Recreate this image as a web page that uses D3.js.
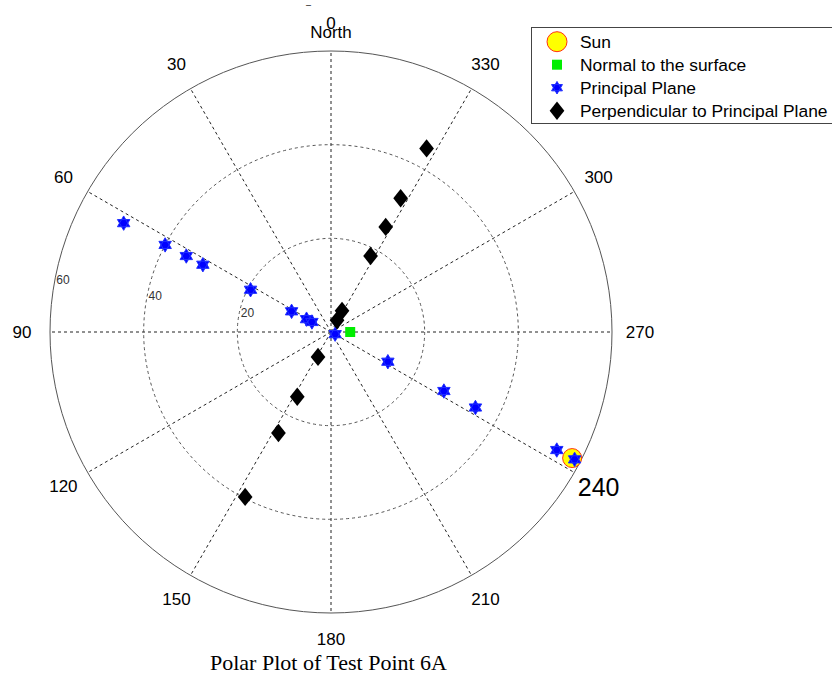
<!DOCTYPE html>
<html>
<head>
<meta charset="utf-8">
<script src="https://cdn.jsdelivr.net/npm/d3@7"></script>
<style>
  body { margin: 0; background: #fff; }
  text { font-family: Arial, "Liberation Sans", sans-serif; }
  text.title { font-family: "Liberation Serif", "Times New Roman", serif; }
</style>
</head>
<body>
<svg id="chart"></svg>
<script>
    // ---- data (azimuth in degrees, zenith angle in degrees) ----
    var angleTicks = [0, 30, 60, 90, 120, 150, 180, 210, 240, 270, 300, 330];
    var ringTicks = [20, 40, 60];
    var seriesNames = ['Sun', 'Normal to the surface', 'Principal Plane', 'Perpendicular to Principal Plane'];

    var sunAz = [242.4];
    var sunZen = [58.1];

    var normalAz = [270];
    var normalZen = [4.1];

    var principalAz = [62.3, 62.3, 62.3, 62.3, 62.3, 62.3, 62.3, 62.3, 242.4, 242.4, 242.4, 242.4, 242.4, 242.4];
    var principalZen = [50.0, 40.0, 34.9, 30.9, 19.4, 9.5, 5.9, 4.6, 1.0, 13.7, 27.2, 34.8, 54.4, 58.7];

    var perpAz = [332.5, 332.5, 332.5, 332.5, 332.5, 332.5, 152.5, 152.5, 152.5, 152.5];
    var perpZen = [44.2, 32.2, 25.3, 18.3, 5.1, 2.8, 6.0, 15.6, 24.3, 39.7];

    var width = 832;
    var height = 674;
    var cx = 331, cy = 332;
    var outerR = 281;

    var svg = d3.select('#chart')
        .attr('width', width)
        .attr('height', height);

    var r = d3.scaleLinear().domain([0, 60]).range([0, outerR]);

    // azimuth runs counter-clockwise from North
    function px(az, rad) { return cx - rad * Math.sin(az * Math.PI / 180); }
    function py(az, rad) { return cy - rad * Math.cos(az * Math.PI / 180); }

    function zip(az, zen) {
        return az.map(function(a, i) { return { az: a, zen: zen[i] }; });
    }

    // custom marker shapes
    var hexagram = {
        draw: function(ctx, size) {
            var R = Math.sqrt(size) * 0.6;
            [0, 180].forEach(function(rot) {
                for (var k = 0; k < 3; k++) {
                    var a = (rot + k * 120) * Math.PI / 180;
                    var x = R * Math.sin(a), y = -R * Math.cos(a);
                    if (k === 0) ctx.moveTo(x, y); else ctx.lineTo(x, y);
                }
                ctx.closePath();
            });
        }
    };
    var diamond = {
        draw: function(ctx, size) {
            var h = Math.sqrt(size) * 0.75, w = h * 0.8;
            ctx.moveTo(0, -h);
            ctx.lineTo(w, 0);
            ctx.lineTo(0, h);
            ctx.lineTo(-w, 0);
            ctx.closePath();
        }
    };

    var sunSym = d3.symbol().type(d3.symbolCircle).size(Math.PI * 9.5 * 9.5);
    var normalSym = d3.symbol().type(d3.symbolSquare).size(100);
    var starSym = d3.symbol().type(hexagram).size(144);
    var diamondSym = d3.symbol().type(diamond).size(150);

    // -----------------------------------
    // grid
    var grid = svg.append('g');

    grid.selectAll('.spoke')
        .data(angleTicks)
        .enter().append('line')
        .attr('class', 'spoke')
        .attr('x1', cx).attr('y1', cy)
        .attr('x2', function(d) { return px(d, r(60)); })
        .attr('y2', function(d) { return py(d, r(60)); })
        .attr('stroke', '#222')
        .attr('stroke-width', 1)
        .attr('stroke-dasharray', '3,3');

    grid.selectAll('.ring')
        .data(ringTicks)
        .enter().append('circle')
        .attr('class', 'ring')
        .attr('cx', cx).attr('cy', cy)
        .attr('r', function(d) { return r(d); })
        .attr('fill', 'none')
        .attr('stroke', '#555')
        .attr('stroke-width', 1)
        .attr('stroke-dasharray', function(d) { return d === 60 ? null : '3,3'; });

    grid.selectAll('.ringLabel')
        .data(ringTicks)
        .enter().append('text')
        .attr('class', 'ringLabel')
        .attr('x', function(d) { return px(80, r(d)) + 2; })
        .attr('y', function(d) { return py(80, r(d)) + 1; })
        .attr('font-size', 12)
        .attr('fill', '#333')
        .text(function(d) { return d; });

    grid.selectAll('.angleLabel')
        .data(angleTicks)
        .enter().append('text')
        .attr('class', 'angleLabel')
        .attr('x', function(d) { return px(d, 309); })
        .attr('y', function(d) { return py(d, d === 180 ? 307 : 309); })
        .attr('text-anchor', 'middle')
        .attr('dominant-baseline', 'central')
        .attr('font-size', function(d) { return d === 240 ? 25 : 17; })
        .attr('fill', '#000')
        .text(function(d) { return d; });

    svg.append('text')
        .attr('x', cx)
        .attr('y', 32)
        .attr('text-anchor', 'middle')
        .attr('dominant-baseline', 'central')
        .attr('font-size', 17)
        .text('North');

    svg.append('text')
        .attr('x', 308.5)
        .attr('y', 8)
        .attr('text-anchor', 'middle')
        .attr('font-size', 9)
        .text('–');

    // -----------------------------------
    // marks
    function plot(data, sym, fill, stroke) {
        svg.append('g').selectAll('path')
            .data(data)
            .enter().append('path')
            .attr('d', sym)
            .attr('transform', function(d) {
                return 'translate(' + px(d.az, r(d.zen)) + ',' + py(d.az, r(d.zen)) + ')';
            })
            .attr('fill', fill)
            .attr('stroke', stroke || 'none')
            .attr('stroke-width', 1);
    }

    plot(zip(sunAz, sunZen), sunSym, '#ffff00', '#ff3010');
    plot(zip(normalAz, normalZen), normalSym, '#00ee00');
    plot(zip(principalAz, principalZen), starSym, '#0000ff', '#2030ff');
    plot(zip(perpAz, perpZen), diamondSym, '#000000');

    // -----------------------------------
    // legend
    var legend = svg.append('g');
    legend.append('rect')
        .attr('x', 531.5).attr('y', 27.5)
        .attr('width', 320).attr('height', 96)
        .attr('fill', '#fff')
        .attr('stroke', '#444')
        .attr('stroke-width', 1);

    var legendSyms = [
        { sym: d3.symbol().type(d3.symbolCircle).size(Math.PI * 100), fill: '#ffff00', stroke: '#ff3010' },
        { sym: normalSym, fill: '#00ee00' },
        { sym: d3.symbol().type(hexagram).size(110), fill: '#0000ff', stroke: '#2030ff' },
        { sym: d3.symbol().type(diamond).size(150), fill: '#000000' }
    ];

    var rows = legend.selectAll('.row')
        .data(seriesNames)
        .enter().append('g')
        .attr('class', 'row')
        .attr('transform', function(d, i) { return 'translate(557,' + (41.7 + i * 23) + ')'; });

    rows.append('path')
        .attr('d', function(d, i) { return legendSyms[i].sym(); })
        .attr('fill', function(d, i) { return legendSyms[i].fill; })
        .attr('stroke', function(d, i) { return legendSyms[i].stroke || 'none'; });

    rows.append('text')
        .attr('x', 23)
        .attr('dominant-baseline', 'central')
        .attr('font-size', 17.4)
        .text(function(d) { return d; });

    // title
    svg.append('text')
        .attr('class', 'title')
        .attr('x', 328.5)
        .attr('y', 662)
        .attr('text-anchor', 'middle')
        .attr('dominant-baseline', 'central')
        .attr('font-size', 22)
        .text('Polar Plot of Test Point 6A');
</script>
</body>
</html>
